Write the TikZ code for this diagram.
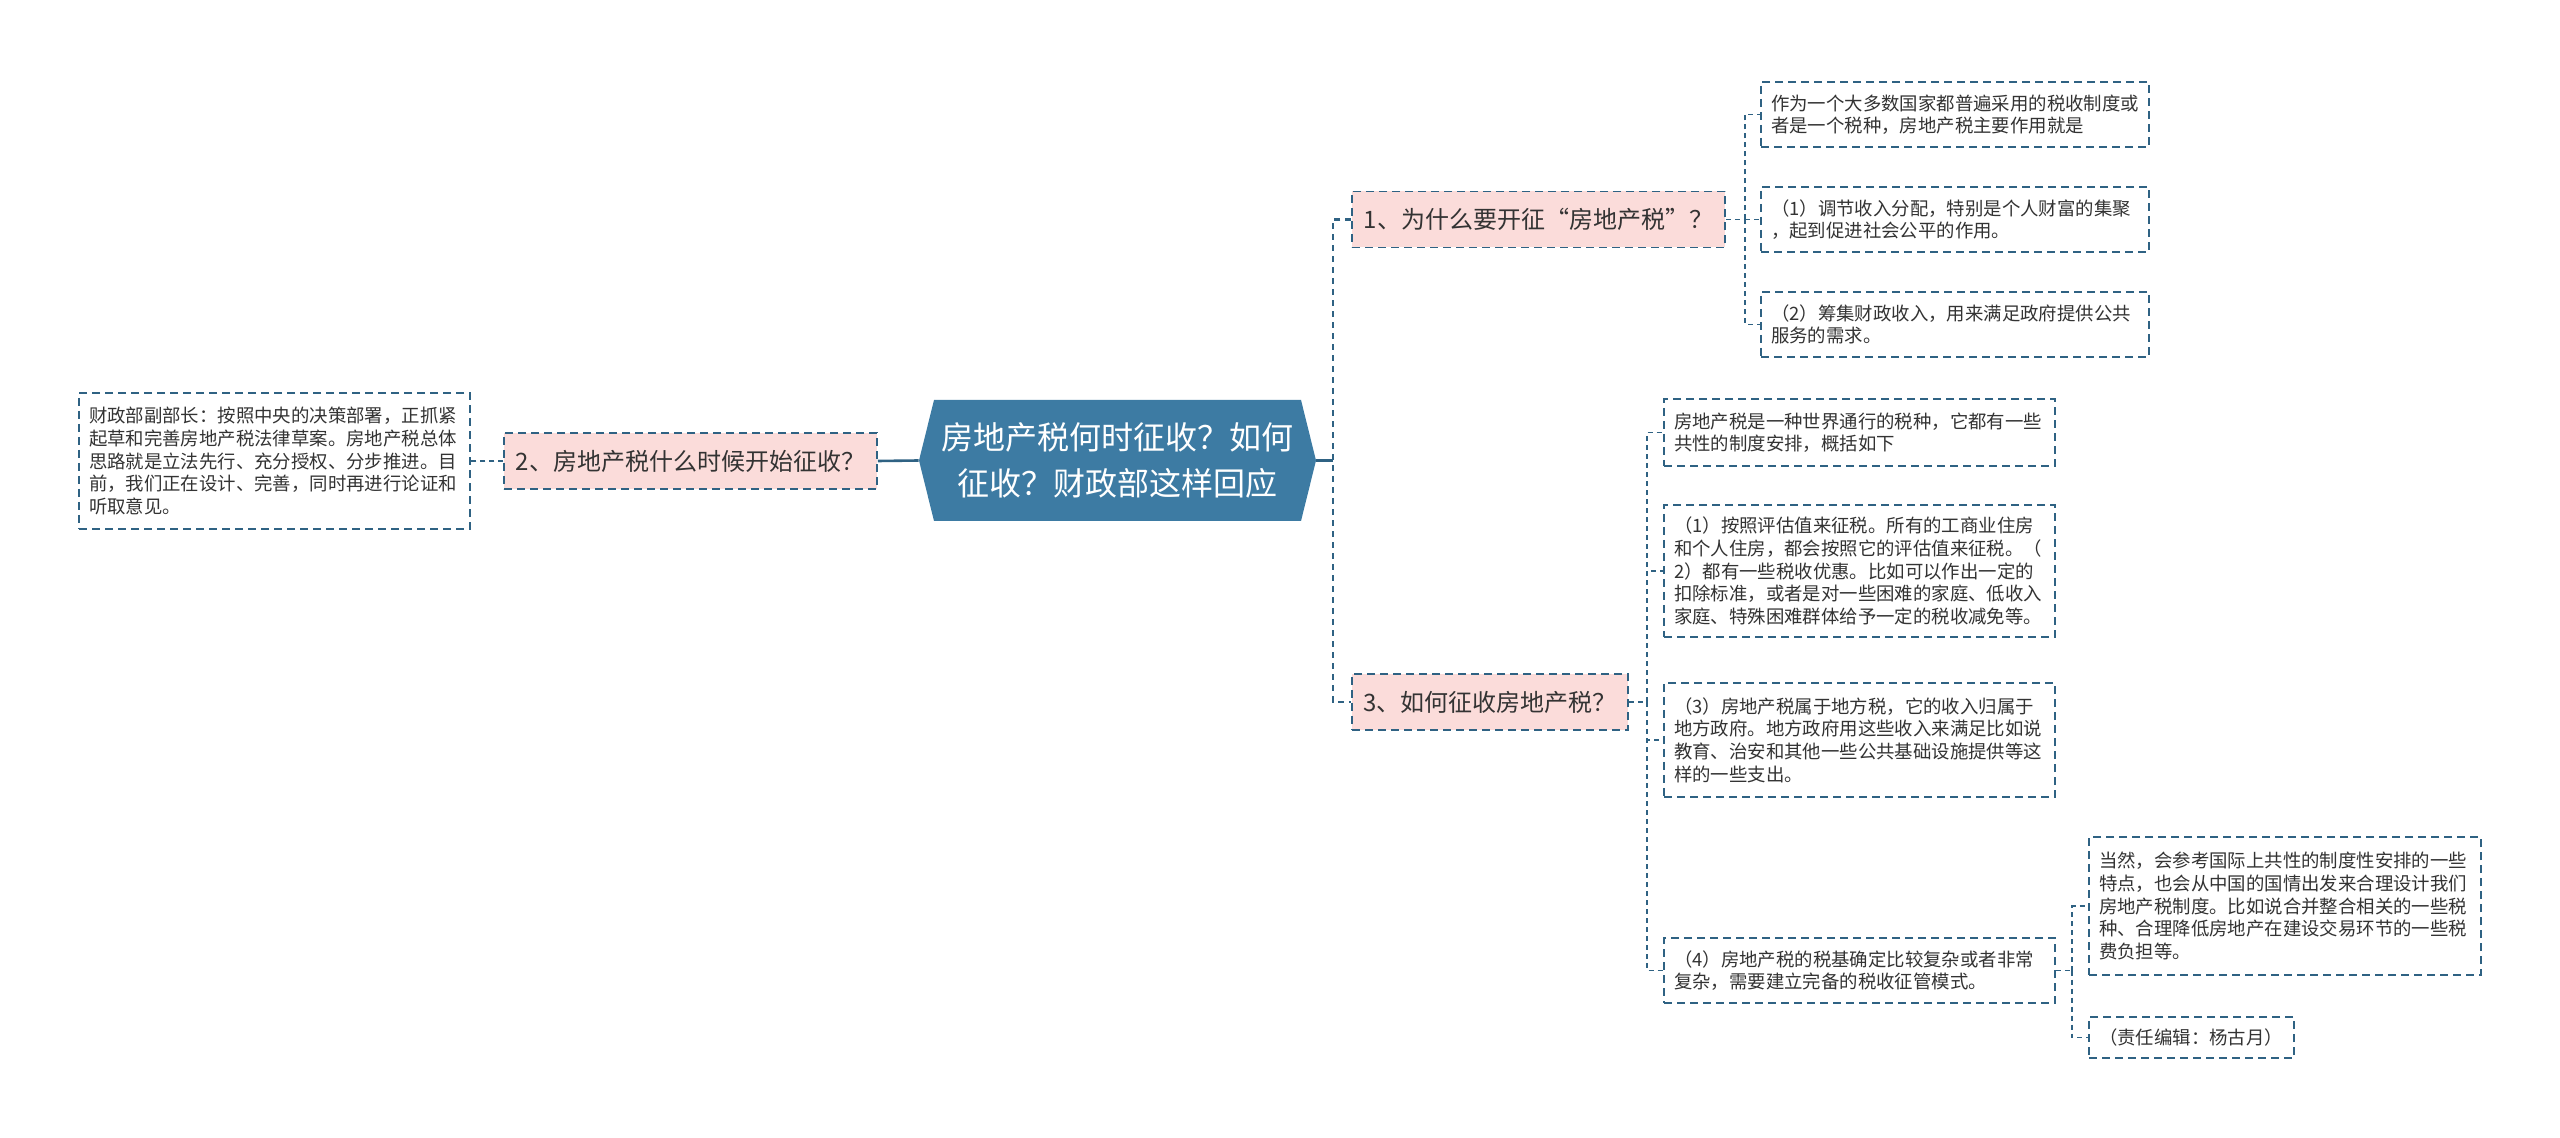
\documentclass[tikz,border=0pt]{standalone}
\usepackage{fontspec}
\setmainfont{Noto Sans CJK SC}
\definecolor{edgec}{HTML}{2F6283}
\definecolor{rootc}{HTML}{3D7BA3}
\definecolor{pinkc}{HTML}{FBDCDA}
\definecolor{textc}{HTML}{333333}
\begin{document}
\begin{tikzpicture}[x=0.5pt,y=-0.5pt,
  boxline/.style={draw=edgec, line width=0.75pt, dash pattern=on 4pt off 2.5pt},
  leaf/.style={boxline, fill=white, align=left, text=textc,
    font=\fontsize{9.2}{11.3}\selectfont, inner xsep=5pt, inner ysep=0pt},
  lvone/.style={boxline, fill=pinkc, text=textc, font=\fontsize{12}{14}\selectfont,
    inner xsep=0pt, inner ysep=0pt, minimum height=28pt},
  rootnode/.style={text=white, align=center, font=\fontsize{16}{23}\selectfont,
    minimum width=198.5pt, minimum height=60.5pt, inner sep=0pt,
    path picture={\fill[rootc] (path picture bounding box.west)
      -- ([xshift=7.5pt]path picture bounding box.north west)
      -- ([xshift=-7.5pt]path picture bounding box.north east)
      -- (path picture bounding box.east)
      -- ([xshift=-7.5pt]path picture bounding box.south east)
      -- ([xshift=7.5pt]path picture bounding box.south west) -- cycle;}},
  trunk/.style={draw=edgec, line width=1.3pt},
  trunkdash/.style={trunk, dash pattern=on 3pt off 2.5pt},
  leafedge/.style={draw=edgec, line width=0.7pt, dash pattern=on 2.5pt off 2pt}]
\useasboundingbox[fill=white] (0,0) rectangle (2560,1138);

% root
\node[rootnode] (root) at (1117.5,460.5) {房地产税何时征收？如何\\征收？财政部这样回应};

% level one
\node[lvone, minimum width=186.5pt] (b2) at (690.5,461) {2、房地产税什么时候开始征收？};
\node[lvone, minimum width=186.5pt] (b1) at (1538.5,219.5) {1、为什么要开征“房地产税”？};
\node[lvone, minimum width=138pt] (b3) at (1490,702) {3、如何征收房地产税？};

% left leaf
\node[leaf, text width=185.5pt, minimum height=68pt] (l0) at (274.5,461)
  {财政部副部长：按照中央的决策部署，正抓紧\\起草和完善房地产税法律草案。房地产税总体\\思路就是立法先行、充分授权、分步推进。目\\前，我们正在设计、完善，同时再进行论证和\\听取意见。};

% group 1 leaves
\node[leaf, text width=184pt, minimum height=32.5pt] (r1a) at (1955,114.5)
  {作为一个大多数国家都普遍采用的税收制度或\\者是一个税种，房地产税主要作用就是};
\node[leaf, text width=184pt, minimum height=32.5pt] (r1b) at (1955,219.5)
  {（1）调节收入分配，特别是个人财富的集聚\\，起到促进社会公平的作用。};
\node[leaf, text width=184pt, minimum height=32.5pt] (r1c) at (1955,324.5)
  {（2）筹集财政收入，用来满足政府提供公共\\服务的需求。};

% group 3 leaves
\node[leaf, text width=185.5pt, minimum height=33.5pt] (r3a) at (1859.5,432.5)
  {房地产税是一种世界通行的税种，它都有一些\\共性的制度安排，概括如下};
\node[leaf, text width=185.5pt, minimum height=66pt] (r3b) at (1859.5,571)
  {（1）按照评估值来征税。所有的工商业住房\\和个人住房，都会按照它的评估值来征税。（\\2）都有一些税收优惠。比如可以作出一定的\\扣除标准，或者是对一些困难的家庭、低收入\\家庭、特殊困难群体给予一定的税收减免等。};
\node[leaf, text width=185.5pt, minimum height=57pt] (r3c) at (1859.5,740)
  {（3）房地产税属于地方税，它的收入归属于\\地方政府。地方政府用这些收入来满足比如说\\教育、治安和其他一些公共基础设施提供等这\\样的一些支出。};
\node[leaf, text width=185.5pt, minimum height=32.5pt] (r3d) at (1859.5,970.5)
  {（4）房地产税的税基确定比较复杂或者非常\\复杂，需要建立完备的税收征管模式。};

% group 4 leaves
\node[leaf, text width=186pt, minimum height=69pt] (r4a) at (2285,906)
  {当然，会参考国际上共性的制度性安排的一些\\特点，也会从中国的国情出发来合理设计我们\\房地产税制度。比如说合并整合相关的一些税\\种、合理降低房地产在建设交易环节的一些税\\费负担等。};
\node[leaf, text width=92.5pt, minimum height=20.5pt] (r4b) at (2191.5,1037.5)
  {（责任编辑：杨古月）};

% junctions
\coordinate (jr) at (1333,460.5);
\coordinate (g1) at (1745,219.5);
\coordinate (g3) at (1647,702);
\coordinate (g4) at (2072,970.5);

% trunk connectors
\draw[trunk] (root.west) -- (b2.east);
\draw[trunk] (root.east) -- (jr);
\draw[trunkdash] (b1.west) -| (jr) |- (b3.west);

% left leaf
\draw[leafedge] (b2.west) -- (l0.east);

% group 1
\draw[leafedge] (b1.east) -- (g1);
\draw[leafedge] (g1) |- (r1a.west);
\draw[leafedge] (g1) -- (r1b.west);
\draw[leafedge] (g1) |- (r1c.west);

% group 3
\draw[leafedge] (b3.east) -- (g3);
\draw[leafedge] (g3) |- (r3a.west);
\draw[leafedge] (g3) |- (r3b.west);
\draw[leafedge] (g3) |- (r3c.west);
\draw[leafedge] (g3) |- (r3d.west);

% group 4
\draw[leafedge] (r3d.east) -- (g4);
\draw[leafedge] (g4) |- (r4a.west);
\draw[leafedge] (g4) |- (r4b.west);
\end{tikzpicture}
\end{document}
